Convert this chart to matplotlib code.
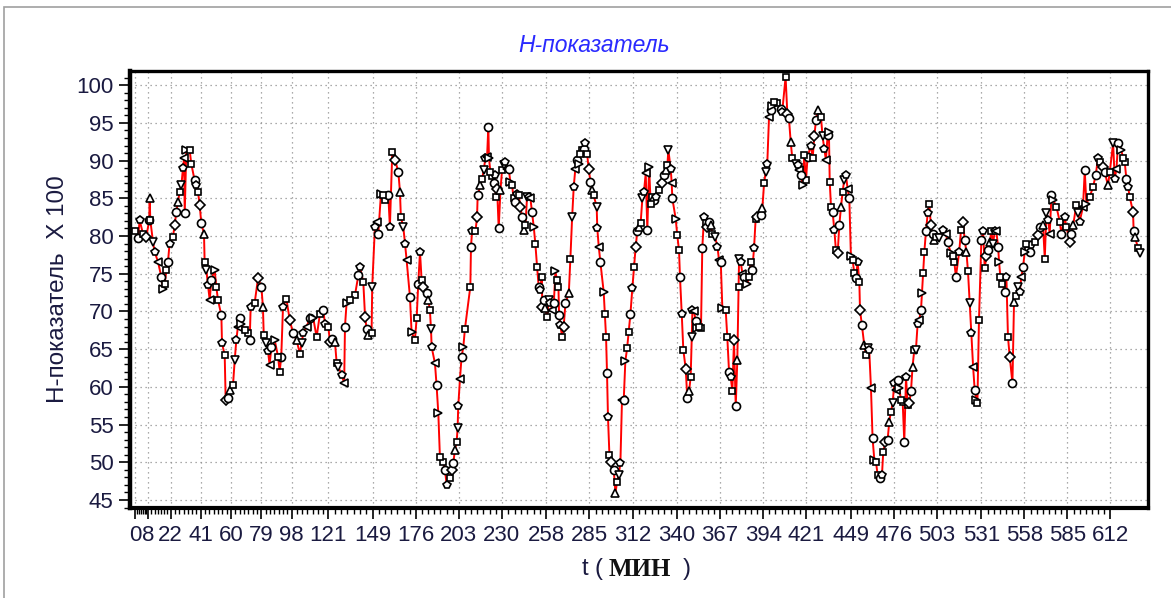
import matplotlib
matplotlib.use("Agg")
import matplotlib.pyplot as plt
import numpy as np
from matplotlib.patches import Rectangle

t_min = [0.0, 1.6, 2.6, 4.7, 6.8, 8.6, 8.9, 9.3, 11.0, 12.0, 14.1, 16.2, 17.3, 18.3, 19.4, 20.4, 21.4, 23.5, 24.6,
         25.6, 26.7, 27.7, 28.8, 29.8, 30.5, 30.9, 31.9, 34.0, 35.0, 37.1, 38.2, 39.2, 40.3, 41.3, 43.0, 43.4,
         44.5, 45.5, 46.6, 47.6, 49.7, 50.7, 51.8, 53.9, 54.3, 56.0, 56.6, 58.1, 59.1, 61.2, 62.3, 63.3, 64.3,
         65.4, 66.4, 68.5, 70.6, 71.7, 72.3, 74.8, 76.9, 79.0, 80.0, 80.5, 82.1, 83.2, 84.2, 85.3, 87.4, 89.5,
         90.5, 91.5, 92.6, 94.7, 96.8, 98.9,
         101.1, 103.2, 104.3, 105.3, 107.4, 109.5, 111.6, 113.7, 115.8, 117.9, 118.9, 121.0, 122.1, 123.1, 125.2,
         126.3, 127.3, 129.4, 131.0, 131.5, 132.5, 134.6, 137.8, 139.9, 140.9, 143.0, 144.1, 145.1, 146.1, 148.2,
         148.6, 150.3, 151.4, 152.4, 154.1, 155.6, 156.6, 158.7, 159.7, 161.2, 162.9, 165.0, 166.0, 166.6, 168.1,
         169.2, 170.2, 172.3, 173.3, 175.4, 176.5, 177.5, 178.6, 179.6, 180.7, 182.8, 183.8, 184.8, 185.5, 185.9,
         188.0, 189.0, 190.1, 191.1, 193.2, 194.3, 195.3, 197.4, 198.4, 199.5, 200.5, 201.6, 202.2, 202.6, 203.7,
         204.7, 205.8, 206.8,
         210.2, 210.6, 211.3, 213.4, 214.4, 214.8, 216.5, 217.6, 218.6, 219.6, 220.7, 221.5, 221.9, 222.8, 223.8,
         224.9, 225.6, 226.1, 227.0, 228.0, 229.1, 230.1, 231.2, 232.2, 233.2, 234.3, 235.3, 236.4, 237.4, 238.5,
         239.5, 240.6, 241.6, 242.7, 243.7, 244.8, 245.8, 246.9, 247.9, 248.9, 250.0, 251.0, 252.1, 253.1, 254.2,
         255.0, 255.4, 256.3, 257.3, 258.4, 259.4, 260.5, 261.5, 262.6, 263.6, 264.6, 265.5, 265.9, 266.7, 267.8,
         268.8, 269.9, 272.0, 273.0, 274.1, 275.1, 276.1, 277.2, 278.2, 279.3, 280.3, 281.4, 282.4, 283.5, 284.5,
         285.6, 286.6, 287.6, 289.5, 289.9, 290.8, 291.8, 293.9, 294.6, 295.4, 296.0, 296.6, 297.5, 298.7, 300.2,
         301.3, 302.3, 303.3, 304.4, 305.4, 306.5, 307.5, 308.6, 309.6, 310.7,
         311.9, 313.0, 314.0, 315.0, 316.1, 317.1, 318.2, 319.2, 320.3, 321.3, 322.4, 323.4, 324.4, 325.5, 326.5,
         328.6, 330.7, 331.8, 332.8, 333.9, 334.5, 336.0, 336.6, 337.0, 339.1, 340.1, 341.2, 341.8, 342.9, 343.9,
         345.4, 346.4, 347.5, 348.5, 349.2, 349.6, 350.6, 351.7, 352.7, 353.8, 355.0, 355.8, 356.9, 357.9, 359.0,
         360.0, 361.1, 362.1, 363.8, 365.3, 366.3, 367.4, 368.4, 370.5, 371.5, 372.6, 373.6, 374.7, 375.7, 376.8,
         377.8, 378.6, 378.9, 379.9, 381.0, 382.0, 384.1, 385.1, 386.2, 387.2, 388.3, 389.3, 390.4, 392.5, 393.5,
         394.6, 395.6, 396.6, 397.7, 398.7, 399.8, 400.8, 402.9, 405.0, 406.0, 408.1, 409.2, 410.2, 411.3, 412.3,
         414.4,
         415.6, 416.7, 417.7, 418.8, 419.8, 420.9, 421.9, 424.0, 425.1, 426.1, 427.2, 428.2, 430.3, 431.3, 432.4,
         433.4, 434.5, 435.3, 435.8, 436.6, 437.6, 438.7, 439.7, 440.8, 441.8, 442.9, 443.9, 444.9, 446.0, 447.0,
         448.1, 449.1, 450.2, 451.2, 452.3, 453.3, 454.4, 454.8, 456.0, 457.5, 458.5, 459.6, 460.6, 461.7, 462.7,
         463.8, 464.8, 465.9, 467.3, 468.6, 469.4, 470.7, 472.1, 473.2, 474.2, 475.3, 476.3, 477.4, 478.4, 479.5,
         480.5, 481.6, 482.6, 483.7, 484.7, 485.7, 486.8, 487.8, 488.9, 489.9, 491.0, 492.0, 493.1, 493.7, 494.5,
         495.2, 496.2, 497.3, 498.3, 499.3, 500.4, 501.4, 502.5, 504.6, 506.7, 508.8, 509.8, 511.9, 513.0, 514.0,
         515.0, 517.1, 518.2,
         519.5, 520.5, 521.6, 522.6, 523.7, 524.7, 525.8, 526.8, 527.9, 528.5, 529.5, 531.0, 532.1, 533.1, 534.2,
         535.2, 536.2, 537.3, 538.3, 539.4, 540.4, 541.5, 542.1, 542.9, 544.2, 545.7, 546.7, 547.7, 548.8, 550.5,
         551.5, 552.6, 554.0, 555.1, 556.1, 557.2, 558.2, 559.3, 560.3, 561.4, 562.4, 564.5, 566.6, 568.1, 569.7,
         570.8, 571.8, 572.9, 573.9, 575.0, 576.0, 578.1, 580.2, 581.2, 583.3, 584.4, 586.5, 587.5, 588.6, 590.6,
         591.7, 592.7, 594.8, 595.9, 596.9, 599.0, 601.1, 602.8, 604.2, 605.3, 607.4, 608.4, 610.5, 611.6, 613.7,
         614.7, 615.8, 616.8, 618.9, 619.9, 621.0, 622.0, 623.1, 624.1, 626.2, 626.6, 627.3, 629.4, 630.4]

h_value = [80.6, 79.7, 82.1, 80.3, 79.9, 82.1, 85.0, 82.1, 79.2, 77.9, 76.6, 74.6, 73.0, 73.6, 75.5, 76.6, 79.0, 79.9, 81.4,
           83.2, 84.5, 85.9, 86.7, 89.0, 90.3, 83.0, 91.4, 91.4, 89.6, 87.4, 86.7, 85.9, 84.1, 81.7, 80.3, 76.6,
           75.5, 73.5, 71.5, 74.2, 75.5, 73.3, 71.5, 69.5, 65.8, 64.2, 58.3, 58.5, 59.6, 60.2, 63.6, 66.2, 68.0,
           69.1, 68.4, 67.5, 67.1, 66.2, 70.6, 71.1, 74.4, 73.3, 70.6, 66.9, 65.8, 64.7, 62.9, 65.3, 66.2, 64.0,
           62.0, 64.0, 70.6, 71.7, 68.9, 67.1,
           66.2, 64.4, 65.8, 67.1, 68.0, 69.1, 69.1, 66.6, 69.7, 70.2, 68.4, 68.0, 66.0, 66.4, 66.0,
           63.1, 62.7, 61.6, 60.5, 68.0, 71.1, 71.5, 72.2, 74.8, 75.9, 73.9, 69.3, 67.7, 66.9, 67.1,
           73.3, 81.2, 81.9, 80.3, 85.6, 85.4, 84.8, 85.4, 81.2, 91.2, 90.1, 88.5, 85.9, 82.5, 81.2,
           79.0, 76.8, 71.9, 67.3, 66.2, 69.1, 73.7, 77.9, 74.2, 73.3, 72.4, 71.5, 70.2, 67.7, 65.3,
           63.1, 60.2, 56.5, 50.7, 50.1, 49.0, 47.0, 47.9, 49.0, 49.9, 51.6, 52.7, 54.5, 57.4, 61.1,
           64.0, 65.3, 67.7,
           73.3, 78.6, 80.6, 80.6, 82.5, 85.4, 86.7, 87.6, 88.7, 90.3, 90.5, 94.5, 90.3, 88.5, 87.9,
           87.0, 88.1, 85.2, 86.3, 81.0, 86.1, 88.7, 89.4, 89.8, 88.9, 88.9, 87.2, 86.7, 85.0, 84.5,
           85.6, 85.4, 83.9, 82.5, 80.8, 81.4, 85.2, 85.2, 85.0, 83.2, 81.2, 79.0, 75.9, 73.3, 72.8,
           74.6, 70.6, 71.5, 70.4, 69.3, 71.5, 71.1, 70.2, 71.1, 75.3, 74.2, 73.3, 69.5, 68.2, 66.6,
           68.0, 71.1, 72.4, 77.0, 82.5, 86.5, 88.9, 90.1, 89.6, 90.9, 91.4, 91.6, 92.3, 90.9, 88.9,
           87.2, 86.1, 85.4, 83.9, 81.0, 78.6, 76.6, 72.6, 69.7, 66.6, 61.8, 56.0, 51.0, 50.1, 49.0,
           45.9, 47.4, 48.3, 49.9, 58.3, 58.3, 63.4, 65.1, 67.3, 69.7,
           73.1, 75.9, 78.6, 80.6, 81.2, 81.7, 85.0, 85.9, 88.3, 80.8, 89.2, 84.3, 85.2, 84.8, 85.2,
           86.1, 87.0, 88.1, 88.7, 89.4, 91.4, 88.9, 87.0, 85.0, 82.3, 80.1, 78.1, 74.6, 69.7, 64.9,
           62.4, 58.5, 59.4, 61.3, 66.6, 70.2, 70.0, 68.7, 67.8, 68.0, 67.8, 78.4, 82.5, 81.7, 81.2,
           81.9, 81.4, 80.3, 79.9, 78.6, 76.8, 76.6, 70.4, 70.2, 66.6, 62.0, 61.3, 59.5, 66.2, 57.4,
           63.6, 73.3, 77.0, 76.6, 75.0, 74.6, 73.7, 74.6, 76.6, 75.5, 78.4, 82.3, 82.5, 82.8, 83.7,
           87.0, 88.5, 89.6, 95.8, 96.7, 97.3, 97.8, 97.6, 96.9, 96.5, 101.1, 96.2, 95.6, 92.5, 90.3,
           89.6,
           89.4, 88.7, 88.1, 86.7, 90.7, 87.4, 90.5, 92.0, 90.3, 93.2, 95.4, 96.7, 95.8, 93.2, 91.6,
           90.1, 93.4, 93.8, 87.2, 83.9, 83.2, 80.8, 78.1, 77.7, 81.4, 83.9, 85.9, 87.4, 88.1, 86.3,
           85.0, 77.3, 76.8, 75.1, 74.4, 76.6, 73.9, 70.2, 68.2, 65.5, 64.2, 65.1, 64.9, 59.8, 53.2,
           50.3, 50.1, 48.3, 47.9, 48.3, 51.4, 52.7, 52.9, 55.4, 56.7, 57.8, 60.5, 59.6, 60.9, 59.8,
           58.3, 58.0, 52.7, 61.3, 57.6, 57.8, 59.4, 62.7, 64.9, 64.9, 68.4, 68.9, 70.2, 72.4, 75.1,
           77.9, 80.6, 83.0, 84.3, 81.4, 80.3, 79.5, 79.9, 79.7, 80.8, 80.3, 79.2, 77.7, 77.3, 76.6,
           74.6, 77.9, 80.8,
           81.9, 79.5, 77.9, 75.3, 71.1, 67.1, 62.7, 59.6, 58.3, 57.8, 68.9, 79.5, 80.6, 75.8, 77.3,
           78.1, 79.2, 80.6, 79.0, 80.6, 80.6, 78.6, 76.6, 74.6, 73.7, 72.6, 74.6, 66.6, 64.0, 60.5,
           71.3, 72.0, 73.3, 72.6, 74.6, 75.9, 77.9, 79.0, 78.1, 77.9, 78.8, 79.2, 80.1, 81.2, 81.4,
           77.0, 83.0, 82.1, 80.3, 85.4, 84.8, 83.9, 81.9, 80.3, 82.5, 81.2, 79.2, 80.3, 81.4, 84.1,
           83.0, 81.9, 83.9, 88.7, 84.3, 85.2, 86.5, 88.1, 90.3, 89.8, 89.2, 88.5, 86.7, 88.5, 92.3,
           87.6, 88.9, 92.3, 91.4, 90.3, 89.8, 87.6, 86.5, 85.2, 83.2, 80.6, 79.9, 78.4, 77.7]

x_ticks = [0, 8, 22, 41, 60, 79, 98, 121, 149, 176, 203, 230, 258, 285, 312, 340, 367, 394, 421, 449, 476,
           503, 531, 558, 585, 612]
y_ticks = [45, 50, 55, 60, 65, 70, 75, 80, 85, 90, 95, 100]

title_text = "H-показатель"
ylabel_text = "H-показатель  X 100"

plt.rcParams['font.family'] = ['Liberation Sans', 'DejaVu Sans']

W, H = 1171, 598
fig = plt.figure(figsize=(W / 100, H / 100), dpi=100)
fig.patch.set_facecolor('white')

# window frame
fig.add_artist(Rectangle((4 / W, -0.5), 2.0, 1.5 - 7 / H, transform=fig.transFigure,
                         fill=False, edgecolor='#a0a0a0', linewidth=1.2))

ax = fig.add_axes([130 / W, 1 - 508 / H, 1018 / W, 437 / H])
ax.set_xlim(-3.45, 635.6)
ax.set_ylim(43.94, 101.88)

t = np.array(t_min)
v = np.array(h_value)
ax.plot(t, v, color='red', linewidth=1.4, zorder=3)

shapes = ['s', 'o', 'p', 's', 'D', 'o', '^', 's', 'v', 'p', '<', 'o', '>', 's']
idx = np.arange(len(t))
for k, m in enumerate(shapes):
    sel = idx % len(shapes) == k
    ms = 5.0 if m in ('s', 'D') else 5.8
    ax.plot(t[sel], v[sel], linestyle='none', marker=m, markersize=ms,
            markerfacecolor='white', markeredgecolor='black', markeredgewidth=1.2, zorder=4)

ax.set_xticks(x_ticks)
ax.set_xticklabels([str(x) for x in x_ticks])
minor_x = []
for a, b in zip(x_ticks[:-1], x_ticks[1:]):
    minor_x.extend(np.linspace(a, b, 8)[1:-1])
ax.set_xticks(minor_x, minor=True)
ax.set_yticks(y_ticks)
ax.set_yticks(np.arange(44, 102, 1), minor=True)

ax.tick_params(axis='both', which='major', direction='out', length=8, width=1.2,
               labelsize=16, colors='black', labelcolor='#1a1a40', pad=4)
ax.tick_params(axis='both', which='minor', direction='out', length=4, width=1.0, colors='black')

ax.grid(True, which='major', color='#909090', linestyle=(0, (1, 3)), linewidth=0.9, zorder=0)
for s in ax.spines.values():
    s.set_linewidth(2.4)
    s.set_color('black')
ax.spines['left'].set_linewidth(3.2)
ax.spines['bottom'].set_linewidth(3.0)

fig.text(594 / W, 1 - 45 / H, title_text, color='#2a2aff', fontsize=16.5, style='italic',
         ha='center', va='center')
fig.text(58 / W, 1 - 289 / H, ylabel_text, rotation=90, fontsize=17.5, color='#1a1a40',
         ha='center', va='center')
fig.text(585 / W, 1 - 569 / H, "t", fontsize=17, color='#1a1a40', ha='center', va='center')
fig.text(598 / W, 1 - 569 / H, "(", fontsize=17, color='#1a1a40', ha='center', va='center')
fig.text(640 / W, 1 - 569 / H, "МИН", fontsize=18, fontweight='bold',
         family=['Liberation Serif', 'DejaVu Serif'], color='#111111', ha='center', va='center')
fig.text(687 / W, 1 - 569 / H, ")", fontsize=17, color='#1a1a40', ha='center', va='center')

fig.savefig('out.png', dpi=100, facecolor='white')
